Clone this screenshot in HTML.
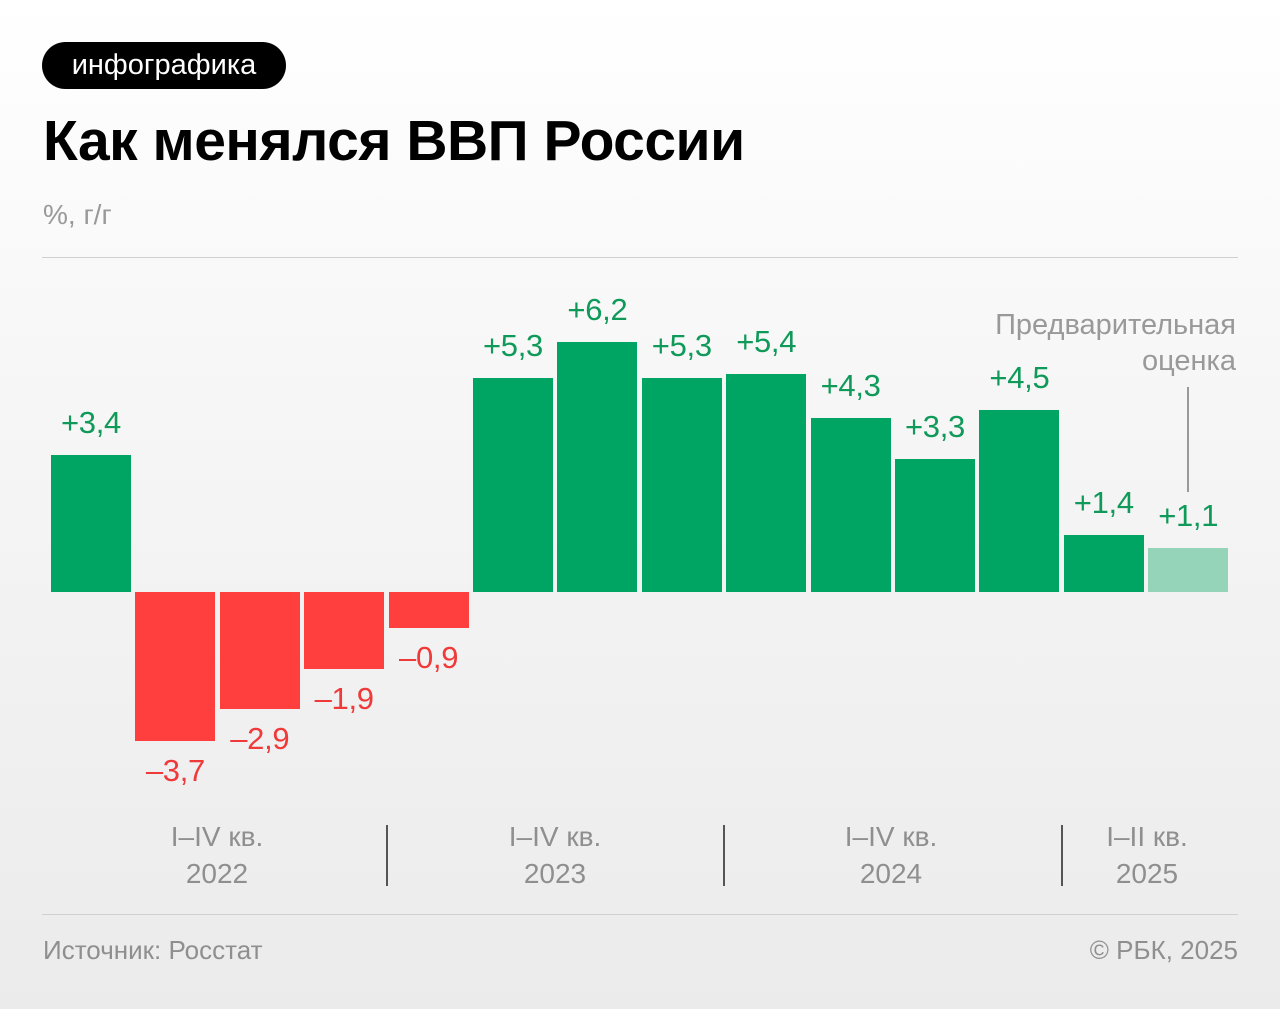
<!DOCTYPE html><html><head><meta charset="utf-8"><style>
body{margin:0;width:1280px;height:1009px;overflow:hidden;background:linear-gradient(#ffffff 0%,#f6f6f6 40%,#ebebeb 100%);font-family:"Liberation Sans","DejaVu Sans",sans-serif;position:relative}
.a{position:absolute}
.bar{position:absolute;width:80px}
.g{background:#00a563}.r{background:#ff3e3e}
.l{position:absolute;width:120px;text-align:center;font-size:31px;line-height:30px;letter-spacing:-0.3px}
.lg{color:#0f9a5a}.lr{color:#f03a3a}
.x{position:absolute;width:200px;text-align:center;color:#8f8f8f;font-size:28px;line-height:37px}
.sep{position:absolute;top:825px;height:61px;width:2px;background:#555}
</style></head><body>
<div class="a" style="left:42px;top:42px;width:244px;height:47px;border-radius:24px;background:#000;color:#fff;font-size:29px;line-height:46px;text-align:center">инфографика</div>
<div class="a" style="left:43px;top:111px;font-size:57px;font-weight:bold;color:#000;letter-spacing:-0.5px;line-height:60px">Как менялся ВВП России</div>
<div class="a" style="left:43px;top:200px;font-size:28px;color:#999;line-height:30px">%, г/г</div>
<div class="a" style="left:42px;top:257px;width:1196px;height:1px;background:#d0d0d0"></div>
<div class="a" style="left:42px;top:914px;width:1196px;height:1px;background:#d0d0d0"></div>
<div class="a" style="left:43px;top:935px;font-size:26px;color:#8f8f8f;line-height:30px">Источник: Росстат</div>
<div class="a" style="right:42px;top:935px;font-size:26px;color:#8f8f8f;line-height:30px">© РБК, 2025</div>
<div class="a" style="right:44px;top:307px;font-size:29px;color:#999;text-align:right;line-height:36px">Предварительная<br>оценка</div>
<div class="a" style="left:1187px;top:387px;width:2px;height:105px;background:#999"></div>
<div id="c"></div>
<div class="x" style="left:117px;top:818px">I–IV кв.<br>2022</div>
<div class="x" style="left:455px;top:818px">I–IV кв.<br>2023</div>
<div class="x" style="left:791px;top:818px">I–IV кв.<br>2024</div>
<div class="x" style="left:1047px;top:818px">I–II кв.<br>2025</div>
<div class="sep" style="left:386px"></div><div class="sep" style="left:723px"></div><div class="sep" style="left:1061px"></div>
<script>
var v=[3.4,-3.7,-2.9,-1.9,-0.9,5.3,6.2,5.3,5.4,4.3,3.3,4.5,1.4,1.1],s=40.4,b=592,h='';
v.forEach(function(d,i){var x=51+i*84.4,hh=Math.abs(d)*s,t=d>0?b-hh:b;
var col=d>0?(i==13?'background:#96d4b9':''):'';
h+='<div class="bar '+(d>0?'g':'r')+'" style="left:'+x+'px;top:'+t+'px;height:'+hh+'px;'+col+'"></div>';
var ly=d>0?b-hh-47:b+hh+15;var txt=(d>0?'+':'–')+Math.abs(d).toFixed(1).replace('.',',');
h+='<div class="l '+(d>0?'lg':'lr')+'" style="left:'+(x-20)+'px;top:'+ly+'px">'+txt+'</div>';});
document.getElementById('c').innerHTML=h;
</script>
</body></html>
